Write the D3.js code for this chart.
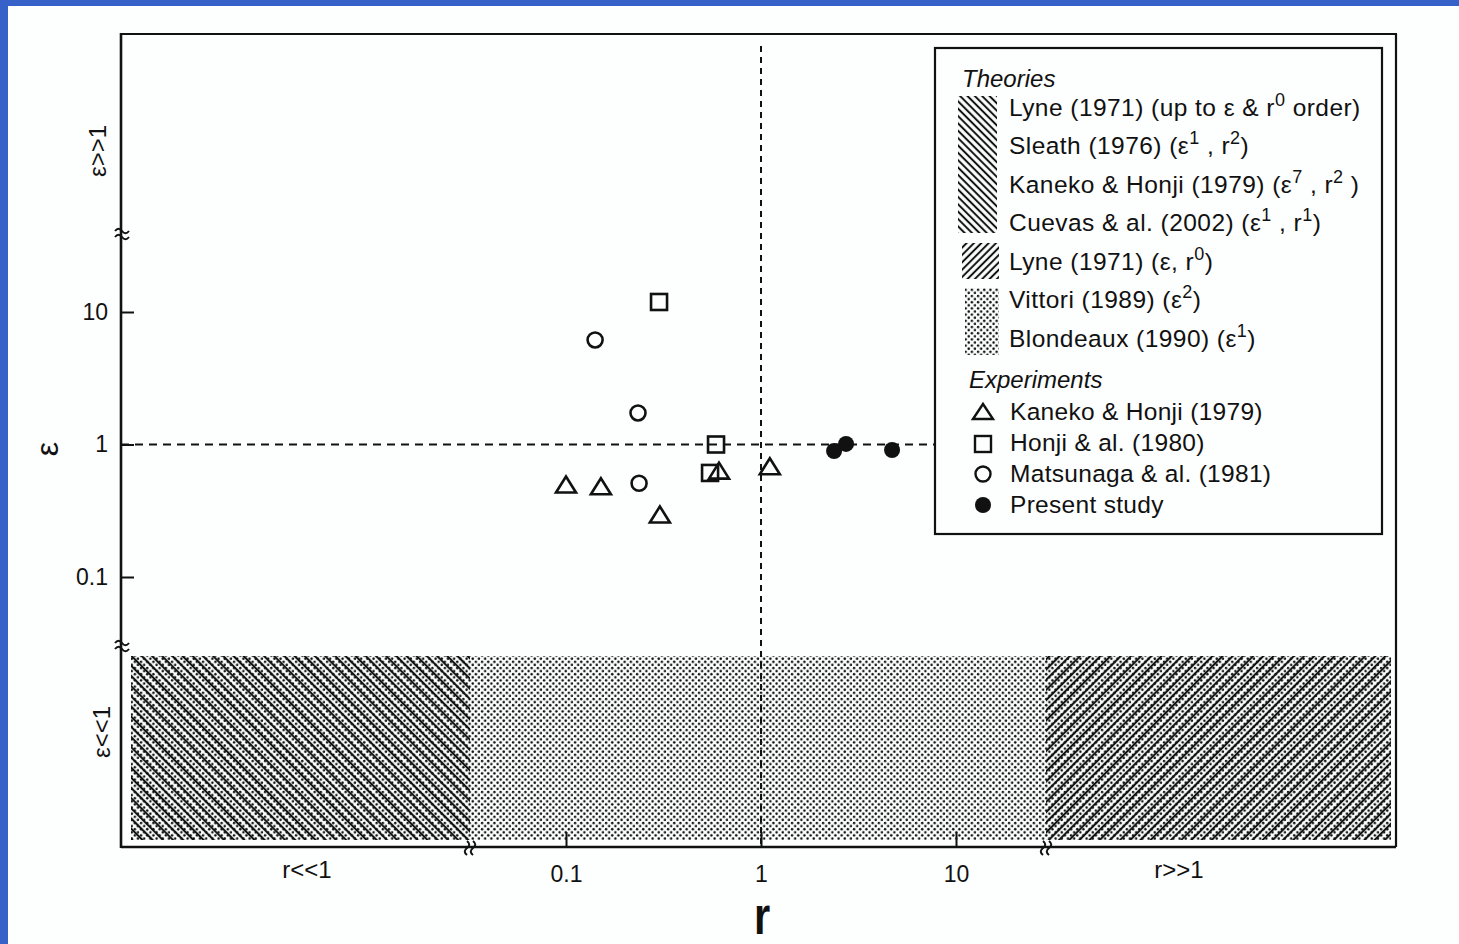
<!DOCTYPE html>
<html>
<head>
<meta charset="utf-8">
<script src="https://cdn.jsdelivr.net/npm/d3@7"></script>
<style>
  html, body { margin: 0; padding: 0; background: #3561c9; }
  svg { display: block; }
  text { font-family: "Liberation Sans", Arial, sans-serif; fill: #111; }
</style>
</head>
<body>
<svg id="chart" width="1459" height="944"></svg>
<script>
// ---- data ----
const rTicks = [0.1, 1, 10];
const epsTicks = [0.1, 1, 10];

// Kaneko & Honji (1979) – triangles
const kanekoR   = [0.100, 0.151, 0.303, 0.609, 1.11];
const kanekoEps = [0.495, 0.480, 0.294, 0.630, 0.680];
// Honji & al. (1980) – squares
const honjiR   = [0.300, 0.588, 0.548];
const honjiEps = [11.9, 1.00, 0.610];
// Matsunaga & al. (1981) – open circles
const matsuR   = [0.141, 0.234, 0.237];
const matsuEps = [6.15, 1.73, 0.510];
// Present study – filled circles
const presentR   = [2.37, 2.73, 4.70];
const presentEps = [0.893, 1.01, 0.909];

const theoryLabels = [
  "Lyne (1971) (up to ε & r^{0} order)",
  "Sleath (1976) (ε^{1} , r^{2})",
  "Kaneko & Honji (1979) (ε^{7} , r^{2} )",
  "Cuevas & al. (2002) (ε^{1} , r^{1})",
  "Lyne (1971) (ε, r^{0})",
  "Vittori (1989) (ε^{2})",
  "Blondeaux (1990) (ε^{1})"
];
const experimentLabels = [
  "Kaneko & Honji (1979)",
  "Honji & al. (1980)",
  "Matsunaga & al. (1981)",
  "Present study"
];

// ---- layout ----
const W = 1459, H = 944;
const frame = { left: 121, right: 1396, top: 34, bottom: 847 };
const band = { top: 656, bottom: 840, left: 131, right: 1391, breakL: 470, breakR: 1046 };
const ink = "#111";

const svg = d3.select("#chart");

// white sheet over the blue backdrop
svg.append("rect").attr("x", 8).attr("y", 6).attr("width", W - 8).attr("height", H - 6).attr("fill", "#fdfefe");

const x = d3.scaleLog().domain([0.1, 10]).range([566, 956]);
const y = d3.scaleLog().domain([0.1, 10]).range([577, 312]);

// ---- fill patterns ----
const defs = svg.append("defs");
function dotPattern(id, s, r) {
  const p = defs.append("pattern").attr("id", id).attr("patternUnits", "userSpaceOnUse")
    .attr("width", s).attr("height", s);
  p.append("circle").attr("cx", s * 0.25).attr("cy", s * 0.25).attr("r", r).attr("fill", ink);
  p.append("circle").attr("cx", s * 0.75).attr("cy", s * 0.75).attr("r", r).attr("fill", ink);
}
function hatchPattern(id, spacing, angle, width) {
  const p = defs.append("pattern").attr("id", id).attr("patternUnits", "userSpaceOnUse")
    .attr("width", spacing).attr("height", spacing)
    .attr("patternTransform", `rotate(${angle})`);
  p.append("line").attr("x1", spacing / 2).attr("x2", spacing / 2).attr("y1", 0).attr("y2", spacing)
    .attr("stroke", ink).attr("stroke-width", width);
}
dotPattern("dots", 6.2, 1.25);
hatchPattern("back", 7.2, -45, 2.1);
hatchPattern("fwd", 7.2, 45, 2.1);
hatchPattern("backLeg", 5.2, -45, 2.0);
hatchPattern("fwdLeg", 5.2, 45, 2.0);

// ---- asymptotic regions along the bottom (ε<<1) ----
svg.append("rect").attr("x", band.left).attr("y", band.top)
  .attr("width", band.right - band.left).attr("height", band.bottom - band.top).attr("fill", "url(#dots)");
svg.append("rect").attr("x", band.left).attr("y", band.top)
  .attr("width", band.breakL - band.left).attr("height", band.bottom - band.top).attr("fill", "url(#back)");
svg.append("rect").attr("x", band.breakR).attr("y", band.top)
  .attr("width", band.right - band.breakR).attr("height", band.bottom - band.top).attr("fill", "url(#fwd)");

// ---- reference lines at r = 1 and ε = 1 ----
svg.append("line").attr("x1", x(1)).attr("x2", x(1)).attr("y1", 46).attr("y2", frame.bottom)
  .attr("stroke", ink).attr("stroke-width", 2).attr("stroke-dasharray", "6,5");
svg.append("line").attr("x1", frame.left).attr("x2", 934).attr("y1", y(1)).attr("y2", y(1))
  .attr("stroke", ink).attr("stroke-width", 2).attr("stroke-dasharray", "8,6");

// ---- axes ----
const xAxis = d3.axisBottom(x).tickValues(rTicks).tickFormat(d3.format("~g"))
  .tickSizeInner(-15).tickSizeOuter(0).tickPadding(19);
const gx = svg.append("g").attr("transform", `translate(0,${frame.bottom})`).call(xAxis);
const yAxis = d3.axisLeft(y).tickValues(epsTicks).tickFormat(d3.format("~g"))
  .tickSizeInner(-13).tickSizeOuter(0).tickPadding(13);
const gy = svg.append("g").attr("transform", `translate(${frame.left},0)`).call(yAxis);
[gx, gy].forEach(g => {
  g.select(".domain").remove();
  g.selectAll(".tick line").attr("stroke", ink).attr("stroke-width", 2);
  g.selectAll(".tick text").attr("font-size", 23).attr("font-family", "Liberation Sans, Arial, sans-serif").attr("fill", ink);
});

// frame
const fr = svg.append("g").attr("stroke", ink).attr("fill", "none");
fr.append("line").attr("x1", frame.left).attr("x2", frame.left).attr("y1", frame.top - 1).attr("y2", frame.bottom + 1).attr("stroke-width", 2.6);
fr.append("line").attr("x1", frame.left).attr("x2", frame.right).attr("y1", frame.bottom).attr("y2", frame.bottom).attr("stroke-width", 2.4);
fr.append("line").attr("x1", frame.left - 1).attr("x2", frame.right + 1).attr("y1", frame.top).attr("y2", frame.top).attr("stroke-width", 2.2);
fr.append("line").attr("x1", frame.right).attr("x2", frame.right).attr("y1", frame.top).attr("y2", frame.bottom).attr("stroke-width", 2.2);

// axis breaks: a pair of short wavy strokes across the axis line
function breakMark(cx, cy, rot) {
  const g = svg.append("g").attr("transform", `translate(${cx},${cy}) rotate(${rot})`)
    .attr("fill", "none").attr("stroke", ink).attr("stroke-width", 2);
  [-3, 3].forEach(o => g.append("path").attr("d", `M-7,${o} Q-3.5,${o - 4.5} 0,${o} T7,${o}`));
}
breakMark(frame.left + 1, 234, 0);
breakMark(frame.left + 1, 646, 0);
breakMark(band.breakL, frame.bottom + 1, 90);
breakMark(band.breakR, frame.bottom + 1, 90);

// regime labels
svg.append("text").attr("x", 307).attr("y", 878).attr("text-anchor", "middle").attr("font-size", 24).text("r<<1");
svg.append("text").attr("x", 1179).attr("y", 878).attr("text-anchor", "middle").attr("font-size", 24).text("r>>1");
svg.append("text").attr("transform", "translate(106,151) rotate(-90)").attr("text-anchor", "middle").attr("font-size", 24).text("ε>>1");
svg.append("text").attr("transform", "translate(110,732) rotate(-90)").attr("text-anchor", "middle").attr("font-size", 24).text("ε<<1");

// axis titles
svg.append("text").attr("transform", "translate(58,449) rotate(-90)").attr("text-anchor", "middle").attr("font-size", 32).text("ε");
svg.append("text").attr("transform", "translate(762,934) scale(0.8,1)").attr("text-anchor", "middle")
  .attr("font-size", 52).attr("font-weight", "bold").text("r");

// ---- markers ----
const mk = svg.append("g").attr("fill", "none").attr("stroke", ink).attr("stroke-width", 2.6);
function triPath(cx, cy) {
  return `M${cx - 10},${cy + 7.5}L${cx},${cy - 8.5}L${cx + 10},${cy + 7.5}Z`;
}
mk.selectAll(".tri").data(d3.zip(kanekoR, kanekoEps)).join("path")
  .attr("d", d => triPath(x(d[0]), y(d[1])));
mk.selectAll(".sq").data(d3.zip(honjiR, honjiEps)).join("rect")
  .attr("x", d => x(d[0]) - 8).attr("y", d => y(d[1]) - 8).attr("width", 16).attr("height", 16);
mk.selectAll(".oc").data(d3.zip(matsuR, matsuEps)).join("circle")
  .attr("cx", d => x(d[0])).attr("cy", d => y(d[1])).attr("r", 7.5);
svg.append("g").selectAll("circle").data(d3.zip(presentR, presentEps)).join("circle")
  .attr("cx", d => x(d[0])).attr("cy", d => y(d[1])).attr("r", 8).attr("fill", ink);

// ---- legend ----
const lg = svg.append("g");
lg.append("rect").attr("x", 935).attr("y", 48).attr("width", 447).attr("height", 486)
  .attr("fill", "#fdfefe").attr("stroke", ink).attr("stroke-width", 2.2);

// text with ^{...} superscripts
function richText(sel, str) {
  const parts = str.split(/(\^\{[^}]*\})/).filter(s => s.length);
  let pending = 0;
  parts.forEach(p => {
    if (p.startsWith("^{")) {
      sel.append("tspan").attr("dy", -10 - pending).attr("font-size", 18).text(p.slice(2, -1));
      pending = -10;
    } else {
      const t = sel.append("tspan").text(p);
      if (pending) t.attr("dy", -pending);
      pending = 0;
    }
  });
}

lg.append("text").attr("x", 962).attr("y", 87).attr("font-size", 24).attr("font-style", "italic").text("Theories");
const theoryBase = [116, 154, 193, 231, 270, 308, 347];
theoryLabels.forEach((t, i) => {
  const tx = lg.append("text").attr("x", 1009).attr("y", theoryBase[i]).attr("font-size", 24.5)
    .attr("letter-spacing", 0.45);
  richText(tx, t);
});
lg.append("rect").attr("x", 958).attr("y", 96).attr("width", 39).attr("height", 137).attr("fill", "url(#backLeg)");
lg.append("rect").attr("x", 962).attr("y", 243).attr("width", 37).attr("height", 36).attr("fill", "url(#fwdLeg)");
lg.append("rect").attr("x", 965).attr("y", 288).attr("width", 34).attr("height", 67).attr("fill", "url(#dots)");

lg.append("text").attr("x", 969).attr("y", 388).attr("font-size", 24).attr("font-style", "italic").text("Experiments");
const expBase = [420, 451, 482, 513];
experimentLabels.forEach((t, i) => {
  lg.append("text").attr("x", 1010).attr("y", expBase[i]).attr("font-size", 24.5)
    .attr("letter-spacing", 0.3).text(t);
});
const lm = lg.append("g").attr("fill", "none").attr("stroke", ink).attr("stroke-width", 2.4);
lm.append("path").attr("d", `M${973},${419}L${983},${404}L${993},${419}Z`);
lm.append("rect").attr("x", 975).attr("y", 436).attr("width", 16).attr("height", 16);
lm.append("circle").attr("cx", 983).attr("cy", 474).attr("r", 7.5);
lg.append("circle").attr("cx", 983).attr("cy", 505).attr("r", 8).attr("fill", ink);
</script>
</body>
</html>
